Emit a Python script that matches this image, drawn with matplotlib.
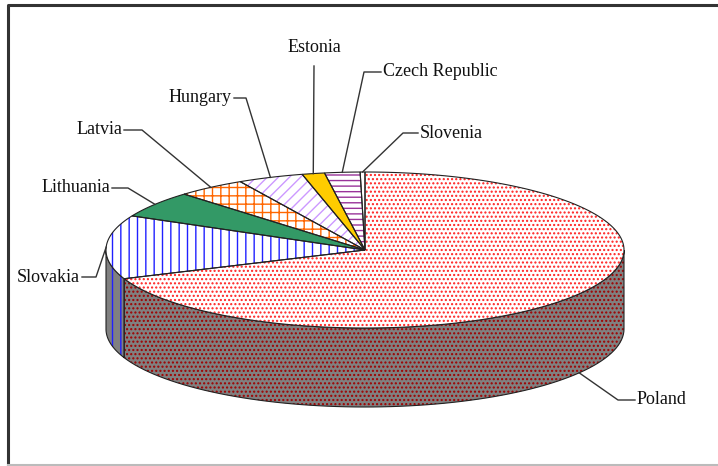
import numpy as np
import matplotlib
matplotlib.use("Agg")
import matplotlib.pyplot as plt
from matplotlib.patches import Polygon

# share of each country (percent), clockwise from 12 o'clock
countries = ["Poland", "Slovakia", "Lithuania", "Latvia", "Hungary",
             "Estonia", "Czech Republic", "Slovenia"]
shares = [69.0, 13.2, 5.5, 4.3, 4.1, 1.4, 2.2, 0.3]

# fill styles: (top face colour, hatch, hatch colour, side face colour, side hatch colour)
styles = [
    ("white", "....", "#ff2020", "#808080", "#a00000"),
    ("white", "||", "#2020ff", "#808080", "#2020ff"),
    ("#339966", "", None, "#1f6b47", None),
    ("white", "++", "#ff6600", "#808080", "#ff6600"),
    ("white", "///", "#cc99ff", "#808080", "#cc99ff"),
    ("#ffcc00", "", None, "#b38f00", None),
    ("white", "---", "#993399", "#808080", "#993399"),
    ("white", "", None, "#808080", None),
]

# label layout: text x, text y, alignment, elbow x
label_pos = [
    (637, 400, "left", 618),
    (80, 277, "right", 96),
    (110, 188, "right", 128),
    (122, 130, "right", 142),
    (232, 98, "right", 246),
    (314, 47, "center", 314),
    (383, 72, "left", 364),
    (420, 133, "left", 403),
]

cx, cy, rx, ry, depth = 365, 250, 259, 78, 79


def rim(t, dz=0.0):
    t = np.radians(t)
    return cx + rx * np.cos(t), cy - ry * np.sin(t) + dz


def front_parts(a, b):
    # parts of [a, b] (degrees) lying on the front half of the pie
    out = []
    for k in range(-2, 2):
        lo, hi = -180 + 360 * k, 360 * k
        s, e = max(a, lo), min(b, hi)
        if e > s:
            out.append((s, e))
    return out


fig = plt.figure(figsize=(7.18, 4.66), dpi=100)
ax = fig.add_axes([0, 0, 1, 1])
ax.set_xlim(0, 718)
ax.set_ylim(466, 0)
ax.axis("off")

def hatched(xy, face, hatch, hcol, z):
    ax.add_patch(Polygon(xy, closed=True, facecolor=face, edgecolor=hcol if hcol else face,
                         hatch=hatch if hatch else None, linewidth=0, zorder=z))
    ax.add_patch(Polygon(xy, closed=True, fill=False, edgecolor="#222222",
                         linewidth=0.8, zorder=z + 0.5))

total = sum(shares)
start = 90.0
angles = []
for v in shares:
    t1 = start
    t2 = start - v / total * 360
    angles.append((t2, t1))
    start = t2

# side walls
for (a, b), st in zip(angles, styles):
    for s, e in front_parts(a, b):
        ts = np.linspace(s, e, 80)
        xt, yt = rim(ts)
        xb, yb = rim(ts[::-1], depth)
        xy = np.column_stack([np.r_[xt, xb], np.r_[yt, yb]])
        hatched(xy, st[3], st[1], st[4], 2)

# top faces
for (a, b), st in zip(angles, styles):
    ts = np.linspace(b, a, max(int((b - a) * 2), 4))
    xt, yt = rim(ts)
    xy = np.column_stack([np.r_[cx, xt], np.r_[cy, yt]])
    hatched(xy, st[0], st[1], st[2], 4)
    if st[1] == "||":
        ax.add_patch(Polygon(xy, closed=True, fill=False, edgecolor="#9999ff",
                             hatch="||||", linewidth=0, zorder=3.9))

# labels with leader lines
for name, (a, b), (tx, ty, ha, ex) in zip(countries, angles, label_pos):
    mid = (a + b) / 2
    dz = depth if np.sin(np.radians(mid)) < 0 else 0
    axp, ayp = rim(mid, dz)
    if ha == "center":
        pts = [(tx, ty + 19), (axp, ayp)]
    else:
        gap = 2 if ha == "left" else -2
        pts = [(tx - gap, ty), (ex, ty), (axp, ayp)]
    px, py = zip(*pts)
    ax.plot(px, py, color="#333333", linewidth=1.0, zorder=6)
    ax.text(tx, ty, name, ha=ha, va="center", fontsize=13,
            family="Liberation Serif", color="#111111", zorder=7)

# chart frame
ax.plot([7.5, 7.5, 718], [466, 4.5, 4.5], color="#333333", linewidth=2.2,
        solid_capstyle="butt", zorder=8)
ax.plot([7.5, 718], [465, 465], color="#bbbbbb", linewidth=1.5, zorder=8)

fig.savefig("out.png", dpi=100)
